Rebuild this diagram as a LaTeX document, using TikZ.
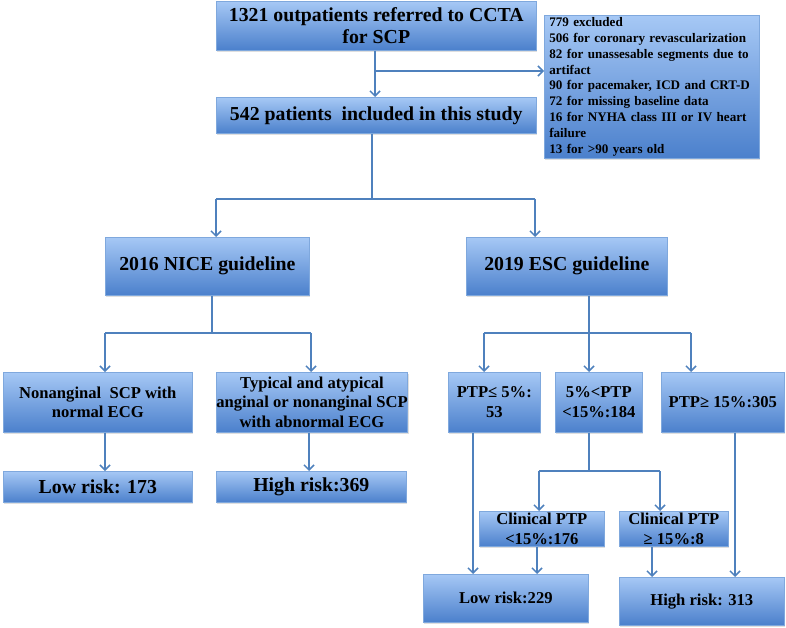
\documentclass[tikz,border=0pt]{standalone}
\usepackage{fontspec}
\setmainfont{Liberation Serif}
\usetikzlibrary{arrows.meta,shadows}

\definecolor{boxtop}{HTML}{A6C8F5}
\definecolor{boxbot}{HTML}{4B80CC}
\definecolor{boxedge}{HTML}{7FA8DD}
\definecolor{linkblue}{HTML}{4F81BD}

\tikzset{
  flowbox/.style={draw=boxedge, line width=0.6pt, top color=boxtop, bottom color=boxbot,
    anchor=north west, align=center, inner sep=0pt,
    font=\bfseries, text=black,
    drop shadow={shadow xshift=1pt, shadow yshift=-1.5pt, opacity=0.25}},
  link/.style={draw=linkblue, line width=1.6pt},
  arr/.style={link, -{Straight Barb[length=5pt,width=10pt,line width=1.5pt]}},
  big/.style={font=\bfseries\fontsize{19.8}{22}\selectfont},
  mid/.style={font=\bfseries\fontsize{16.6}{19.5}\selectfont},
}

\begin{document}
\begin{tikzpicture}[x=1pt,y=-1pt]
\useasboundingbox (0,0) rectangle (786,628);

% ---------- boxes ----------
\node[flowbox,big,minimum width=320pt,minimum height=49pt] (b1) at (216,1)
  {1321 outpatients referred to CCTA\\for SCP};
\node[flowbox,minimum width=215pt,minimum height=143pt,align=left,
  text width=205pt,inner xsep=5pt,
  font=\bfseries\fontsize{13.1}{15.9}\selectfont] (excl) at (544,15)
  {779 excluded\\
   506 for coronary revascularization\\
   82 for unassesable segments due to\\
   artifact\\
   90 for pacemaker, ICD and CRT-D\\
   72 for missing baseline data\\
   16 for NYHA class III or IV heart\\
   failure\\
   13 for >90 years old};
\node[flowbox,big,minimum width=320pt,minimum height=36pt] (b2) at (216,97)
  {542 patients\ \ included in this study};

\node[flowbox,big,minimum width=204pt,minimum height=58pt] (nice) at (105,237)
  {2016 NICE guideline};
\node[flowbox,big,minimum width=201pt,minimum height=58pt] (esc) at (466,237)
  {2019 ESC guideline};

\node[flowbox,mid,minimum width=189pt,minimum height=60pt] (non) at (3,372)
  {Nonanginal\ \ SCP with\\normal ECG};
\node[flowbox,mid,minimum width=190pt,minimum height=60pt] (typ) at (216,372)
  {Typical and atypical\\anginal or nonanginal SCP\\with abnormal ECG};
\node[flowbox,big,minimum width=189pt,minimum height=31pt] (lowL) at (3,471)
  {Low risk: 173};
\node[flowbox,big,minimum width=190pt,minimum height=31pt] (highL) at (216,471)
  {High risk:369};

\node[flowbox,mid,minimum width=92pt,minimum height=60pt] (p1) at (448,372)
  {PTP≤ 5\%:\\53};
\node[flowbox,mid,minimum width=87pt,minimum height=60pt] (p2) at (555,372)
  {5\%<PTP\\<15\%:184};
\node[flowbox,mid,minimum width=123pt,minimum height=60pt] (p3) at (661,372)
  {PTP≥ 15\%:305};

\node[flowbox,mid,minimum width=125pt,minimum height=35pt] (c1) at (479,511)
  {Clinical PTP\\<15\%:176};
\node[flowbox,mid,minimum width=109pt,minimum height=35pt] (c2) at (619,511)
  {Clinical PTP\\≥ 15\%:8};

\node[flowbox,mid,minimum width=165pt,minimum height=48pt] (lowR) at (423,574)
  {Low risk:229};
\node[flowbox,mid,minimum width=165pt,minimum height=48pt] (highR) at (619,577)
  {High risk: 313};

% ---------- junction points ----------
\coordinate (jx) at (375,71);
\coordinate (j2) at (372,199);
\coordinate (j3) at (212,333);
\coordinate (j4) at (589,333);
\coordinate (j5) at (589,471);

% ---------- connectors ----------
\draw[arr] (b1.south -| 375,0) -- (b2.north -| 375,0);
\draw[arr] (jx) -- (excl.west |- jx);

\draw[link] (b2.south -| j2) -- (j2);
\draw[link] (216,199) -- (535,199);
\draw[arr] (216,199) -- (nice.north -| 216,0);
\draw[arr] (535,199) -- (esc.north -| 535,0);

\draw[link] (nice.south -| j3) -- (j3);
\draw[link] (105,333) -- (311,333);
\draw[arr] (105,333) -- (non.north -| 105,0);
\draw[arr] (311,333) -- (typ.north -| 311,0);
\draw[arr] (non.south -| 105,0) -- (lowL.north -| 105,0);
\draw[arr] (typ.south -| 309,0) -- (highL.north -| 309,0);

\draw[link] (esc.south -| j4) -- (j4);
\draw[link] (484,333) -- (691,333);
\draw[arr] (484,333) -- (p1.north -| 484,0);
\draw[arr] (589,333) -- (p2.north -| 589,0);
\draw[arr] (691,333) -- (p3.north -| 691,0);

\draw[arr] (p1.south -| 473,0) -- (lowR.north -| 473,0);
\draw[link] (p2.south -| j5) -- (j5);
\draw[link] (539,471) -- (660,471);
\draw[arr] (539,471) -- (c1.north -| 539,0);
\draw[arr] (660,471) -- (c2.north -| 660,0);
\draw[arr] (c1.south -| 537,0) -- (lowR.north -| 537,0);
\draw[arr] (c2.south -| 652,0) -- (highR.north -| 652,0);
\draw[arr] (p3.south -| 735,0) -- (highR.north -| 735,0);
\end{tikzpicture}
\end{document}
